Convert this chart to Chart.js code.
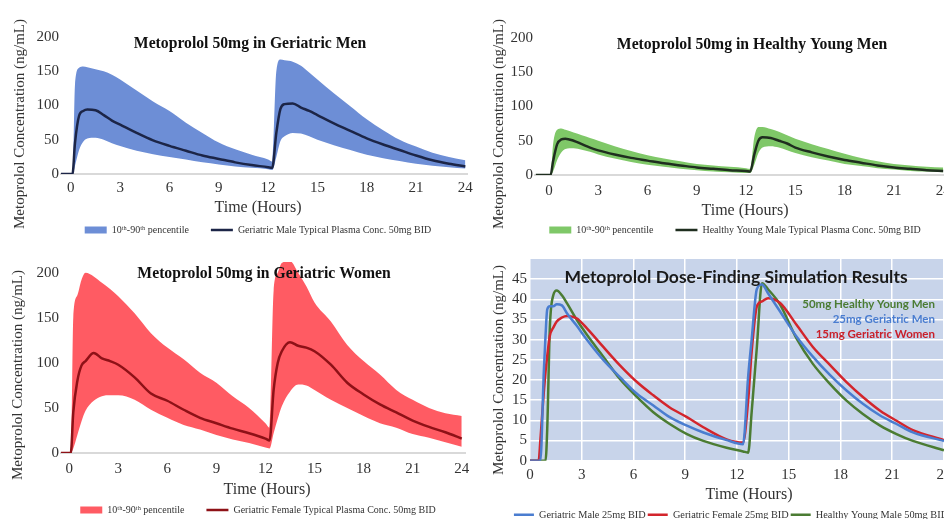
<!DOCTYPE html>
<html lang="en">
<head>
<meta charset="UTF-8">
<title>Metoprolol 50mg simulations</title>
<script src="https://cdn.jsdelivr.net/npm/chart.js@4.4.1/dist/chart.umd.min.js"></script>
<style>
  html, body { margin: 0; padding: 0; background: #fff; }
  body { width: 944px; height: 519px; overflow: hidden; position: relative; }
  canvas { position: absolute; }
</style>
</head>
<body>
<canvas id="men" width="516" height="260" style="left:0;top:0"></canvas>
<canvas id="young" width="526" height="260" style="left:472px;top:0"></canvas>
<canvas id="women" width="516" height="265" style="left:0;top:260px"></canvas>
<canvas id="dose" width="518" height="280" style="left:472px;top:250px"></canvas>

<script>
// time grid (hours) shared by the three percentile panels
const hours = [-0.8, 0.1, 0.25, 0.5, 0.75, 1, 1.5, 2, 2.5, 3, 4, 5, 6, 7, 8, 9, 10, 11, 12, 12.25,
               12.5, 12.75, 13, 13.5, 14, 14.5, 15, 16, 17, 18, 19, 20, 21, 22, 23, 24];

// geriatric men, 50mg
const menMedian = [0, 0, 45, 85, 92, 94, 93, 86, 78, 72, 60, 49, 41, 34, 27, 22, 17, 13, 10, 9,
                   60, 95, 102, 103, 97, 92, 86, 74, 63, 52, 43, 35, 27, 20, 15, 11];
const menHigh = [0, 0, 130, 155, 157, 156, 153, 150, 145, 138, 122, 106, 92, 75, 60, 46, 36, 28, 21, 18,
                 150, 167, 166, 164, 158, 148, 138, 118, 99, 80, 64, 50, 40, 31, 25, 20];
const menLow = [0, 0, 12, 35, 47, 52, 53, 50, 45, 41, 34, 29, 25, 21, 17, 14, 11, 9, 7, 6,
                25, 48, 55, 60, 59, 55, 50, 42, 35, 28, 23, 19, 15, 12, 10, 8];

// healthy young men, 50mg
const youngMedian = [0, 0, 20, 45, 52, 53, 50, 45, 40, 36, 30, 25, 21, 17, 14, 11, 9, 7, 6, 5,
                     30, 50, 55, 54, 50, 46, 40, 33, 27, 22, 18, 14, 11, 9, 7, 6];
const youngHigh = [0, 0, 45, 66, 68, 66, 62, 58, 54, 50, 42, 35, 29, 24, 20, 16, 14, 12, 10, 9,
                   55, 70, 70, 67, 63, 58, 53, 45, 38, 31, 25, 20, 16, 14, 12, 11];
const youngLow = [0, 0, 5, 22, 33, 38, 39, 37, 34, 30, 24, 19, 15, 12, 9, 7, 5, 4, 3, 3,
                  15, 32, 40, 42, 40, 36, 32, 26, 21, 16, 13, 10, 8, 6, 5, 4];

// geriatric women, 50mg
const womenMedian = [0, 0, 45, 80, 97, 102, 111, 105, 102, 98, 84, 66, 58, 48, 39, 33, 27, 22, 16, 14,
                     70, 100, 113, 123, 119, 117, 113, 98, 78, 65, 54, 45, 36, 29, 23, 16];
const womenHigh = [0, 0, 150, 175, 192, 200, 196, 189, 182, 174, 155, 133, 117, 104, 89, 78, 63, 50, 33, 28,
                   180, 200, 211, 213, 200, 185, 167, 146, 120, 102, 87, 70, 59, 50, 44, 41];
const womenLow = [0, 0, 5, 20, 35, 47, 58, 63, 64, 64, 59, 48, 39, 31, 26, 20, 15, 11, 6, 5,
                  22, 38, 52, 68, 76, 75, 70, 59, 50, 41, 33, 28, 21, 17, 12, 7];

// dose-finding panel
const doseHours = [0, 0.5, 0.6, 0.8, 0.9, 1.0, 1.15, 1.35, 1.55, 1.85, 2.15, 2.7, 3.3, 4.25, 5.2, 6.2, 7.15,
                   8.1, 9.1, 10.05, 11.4, 12.35, 12.65, 12.85, 13.15, 13.45, 13.8, 14.5, 15.45, 16.4,
                   17.4, 18.35, 19.3, 20.3, 21.25, 22.2, 24];
const maleLow = [0, 0, 0, 22, 31, 37.5, 38.3, 38.3, 38.8, 38.5, 36.5, 33.5, 30, 25, 20.8, 16.6, 13.7,
                 10.8, 8.7, 7, 5.1, 4.1, 21, 30, 42.5, 43.7, 41.5, 37, 30.8, 25.8,
                 21.2, 17.4, 14.1, 11.2, 9.1, 7, 4.9];
const femaleLow = [0, 0, 5, 17, 22, 26, 31, 33, 34.5, 35.5, 35.9, 35.3, 32.8, 28.2, 23.7, 19.5, 16.2,
                   13.2, 10.8, 8.3, 5.3, 4.5, 15, 27, 38.2, 39.5, 40.3, 39.1, 33.7, 28.2,
                   23.7, 19.5, 15.8, 12.4, 9.9, 7.6, 5.1];
const youngFull = [0, 0, 0, 0, 0, 8, 33, 41, 42.2, 41, 39, 35, 31.2, 25.8, 20.3, 15.8, 12,
                   9.1, 6.6, 4.9, 3.2, 2.3, 2, 12, 28, 44, 42.5, 38.7, 30.3, 24,
                   19, 14.9, 11.6, 8.7, 6.6, 4.9, 2.6];

const hourTicks = [0, 3, 6, 9, 12, 15, 18, 21, 24];
const concTicks = [0, 50, 100, 150, 200];
const doseTicks = [0, 5, 10, 15, 20, 25, 30, 35, 40, 45];

const bandLabel = '10\u1d57\u02b0-90\u1d57\u02b0 pencentile';
const yTitle = 'Metoprolol Concentration (ng/mL)';
const SERIF = '"Liberation Serif", "DejaVu Serif", serif';

Chart.defaults.font.family = SERIF;
Chart.defaults.color = '#333';

const pts = (xs, ys) => xs.map((x, i) => ({x: x, y: ys[i]}));

// free text (titles, axis names, notes) drawn on top of the chart
const notes = {
  id: 'notes',
  afterDraw(chart, args, opts) {
    const ctx = chart.ctx;
    (opts.items || []).forEach(n => {
      ctx.save();
      ctx.font = n.font;
      ctx.fillStyle = n.color || '#333';
      ctx.textAlign = n.align || 'center';
      ctx.textBaseline = 'middle';
      ctx.translate(n.x, n.y);
      if (n.rotate) ctx.rotate(n.rotate);
      ctx.fillText(n.text, 0, 0);
      ctx.restore();
    });
  }
};

const plotBg = {
  id: 'plotBg',
  beforeDraw(chart, args, opts) {
    if (!opts.color) return;
    const a = chart.chartArea;
    chart.ctx.save();
    chart.ctx.fillStyle = opts.color;
    chart.ctx.fillRect(a.left, a.top, a.right - a.left, a.bottom - a.top);
    chart.ctx.restore();
  }
};

function bandChart(id, o) {
  return new Chart(document.getElementById(id), {
    type: 'line',
    data: {
      datasets: [
        { label: bandLabel, data: pts(hours, o.high), fill: '+1', backgroundColor: o.band,
          borderColor: 'transparent', borderWidth: 0, pointRadius: 0, pointStyle: 'rect', order: 2 },
        { label: '', data: pts(hours, o.low), fill: false, backgroundColor: o.band,
          borderColor: 'transparent', borderWidth: 0, pointRadius: 0, order: 2 },
        { label: o.lineLabel, data: pts(hours, o.median), fill: false, borderColor: o.line,
          borderWidth: 2.5, pointRadius: 0, pointStyle: 'line', order: 1 }
      ].map(d => Object.assign(d, { cubicInterpolationMode: 'monotone' }))
    },
    options: {
      responsive: false,
      animation: false,
      layout: { padding: { left: 0, right: 0, top: o.top, bottom: o.bottom } },
      scales: {
        x: {
          type: 'linear', min: o.xMin, max: o.xMax,
          grid: { display: false, drawTicks: false },
          border: { display: true, color: '#d9d9d9', width: 2 },
          ticks: { font: { size: 15 }, padding: o.tickPad, color: '#333' },
          afterBuildTicks: s => { s.ticks = hourTicks.map(v => ({value: v})); },
          afterFit: s => { s.height = o.xH; s.paddingLeft = 0; s.paddingRight = 0; }
        },
        y: {
          min: 0, max: o.yMax,
          grid: { display: false, drawTicks: false },
          border: { display: false },
          ticks: { font: { size: 15 }, padding: 2, color: '#333' },
          afterBuildTicks: s => { s.ticks = concTicks.map(v => ({value: v})); },
          afterFit: s => { s.width = o.yW; s.paddingTop = 0; s.paddingBottom = 0; }
        },
        // empty right-hand strip so the legend sits where the original has it
        spare: {
          type: 'linear', position: 'right',
          grid: { display: false, drawTicks: false },
          border: { display: false },
          ticks: { display: false },
          afterFit: s => { s.width = o.spare; s.paddingTop = 0; s.paddingBottom = 0; }
        }
      },
      plugins: {
        tooltip: { enabled: false },
        legend: {
          position: 'bottom',
          labels: {
            usePointStyle: true, pointStyleWidth: 22, boxHeight: 7, padding: 22,
            color: '#333', font: { size: 10 },
            filter: item => item.text !== '',
            sort: (a, b) => a.datasetIndex - b.datasetIndex
          }
        },
        notes: { items: o.notes }
      }
    },
    plugins: [notes]
  });
}

bandChart('men', {
  high: menHigh, low: menLow, median: menMedian,
  band: '#6d8ed6', line: '#1c2547',
  lineLabel: 'Geriatric Male Typical Plasma Conc. 50mg BID',
  xMin: -0.6, xMax: 24.1, yMax: 200,
  top: 37, bottom: 15, yW: 61, spare: 49, xH: 29, tickPad: 5,
  notes: [
    { text: 'Metoprolol 50mg in Geriatric Men', x: 250, y: 44, font: 'bold 15.7px ' + SERIF, color: '#111' },
    { text: yTitle, x: 20, y: 124, rotate: -Math.PI / 2, font: '15px ' + SERIF },
    { text: 'Time (Hours)', x: 258, y: 208, font: '16px ' + SERIF }
  ]
});

bandChart('young', {
  high: youngHigh, low: youngLow, median: youngMedian,
  band: '#7fc868', line: '#1f2e1f',
  lineLabel: 'Healthy Young Male Typical Plasma Conc. 50mg BID',
  xMin: -0.85, xMax: 24.05, yMax: 200,
  top: 38, bottom: 15, yW: 63, spare: 54, xH: 28, tickPad: 7,
  notes: [
    { text: 'Metoprolol 50mg in Healthy Young Men', x: 280, y: 45, font: 'bold 15.7px ' + SERIF, color: '#111' },
    { text: yTitle, x: 27, y: 124, rotate: -Math.PI / 2, font: '15px ' + SERIF },
    { text: 'Time (Hours)', x: 273, y: 211, font: '16px ' + SERIF }
  ]
});

bandChart('women', {
  high: womenHigh, low: womenLow, median: womenMedian,
  band: '#ff5b63', line: '#8e1117',
  lineLabel: 'Geriatric Female Typical Plasma Conc. 50mg BID',
  xMin: -0.5, xMax: 24.2, yMax: 212,
  top: 2, bottom: 0, yW: 61, spare: 51, xH: 30, tickPad: 7,
  notes: [
    { text: 'Metoprolol 50mg in Geriatric Women', x: 264, y: 14, font: 'bold 15.7px ' + SERIF, color: '#111' },
    { text: yTitle, x: 18, y: 115, rotate: -Math.PI / 2, font: '15px ' + SERIF },
    { text: 'Time (Hours)', x: 267, y: 230, font: '16px ' + SERIF }
  ]
});

// dose-finding comparison
new Chart(document.getElementById('dose'), {
  type: 'line',
  data: {
    datasets: [
      { label: 'Geriatric Male 25mg BID', data: pts(doseHours, maleLow), borderColor: '#4a7dd0' },
      { label: 'Geriatric Female 25mg BID', data: pts(doseHours, femaleLow), borderColor: '#d3252c' },
      { label: 'Healthy Young Male 50mg BID', data: pts(doseHours, youngFull), borderColor: '#4b7c33' }
    ].map(d => Object.assign(d, { fill: false, borderWidth: 2.5, pointRadius: 0, pointStyle: 'line',
                                  cubicInterpolationMode: 'monotone' }))
  },
  options: {
    responsive: false,
    animation: false,
    layout: { padding: { left: 0, top: 9, right: 0, bottom: 0 } },
    scales: {
      x: {
        type: 'linear', min: 0, max: 26.67,
        grid: { color: '#ffffff', lineWidth: 1.5, drawTicks: false },
        border: { display: false },
        ticks: { font: { size: 15 }, padding: 5, color: '#333' },
        afterBuildTicks: s => { s.ticks = hourTicks.map(v => ({value: v})); },
        afterFit: s => { s.height = 47; s.paddingLeft = 0; s.paddingRight = 0; }
      },
      y: {
        min: 0, max: 50,
        grid: { color: '#ffffff', lineWidth: 1.5, drawTicks: false },
        border: { display: false },
        ticks: { font: { size: 15 }, padding: 3, color: '#333' },
        afterBuildTicks: s => { s.ticks = doseTicks.map(v => ({value: v})); },
        afterFit: s => { s.width = 58; s.paddingTop = 0; s.paddingBottom = 0; }
      }
    },
    plugins: {
      tooltip: { enabled: false },
      legend: {
        position: 'bottom',
        labels: { usePointStyle: true, pointStyleWidth: 20, boxHeight: 3, padding: 2,
                  color: '#333', font: { size: 10.3 } }
      },
      plotBg: { color: '#c8d4ea' },
      notes: {
        items: [
          { text: 'Metoprolol Dose-Finding Simulation Results', x: 264, y: 27, font: 'bold 17.5px Lato, "Open Sans", sans-serif', color: '#1a1a1a' },
          { text: '50mg Healthy Young Men', x: 463, y: 54, align: 'right', font: 'bold 11.5px Lato, sans-serif', color: '#4b7c33' },
          { text: '25mg Geriatric Men', x: 463, y: 69, align: 'right', font: 'bold 11.5px Lato, sans-serif', color: '#4a7dd0' },
          { text: '15mg Geriatric Women', x: 463, y: 84, align: 'right', font: 'bold 11.5px Lato, sans-serif', color: '#c9202a' },
          { text: yTitle, x: 27, y: 120, rotate: -Math.PI / 2, font: '15px ' + SERIF },
          { text: 'Time (Hours)', x: 277, y: 245, font: '16px ' + SERIF }
        ]
      }
    }
  },
  plugins: [plotBg, notes]
});
</script>
</body>
</html>
